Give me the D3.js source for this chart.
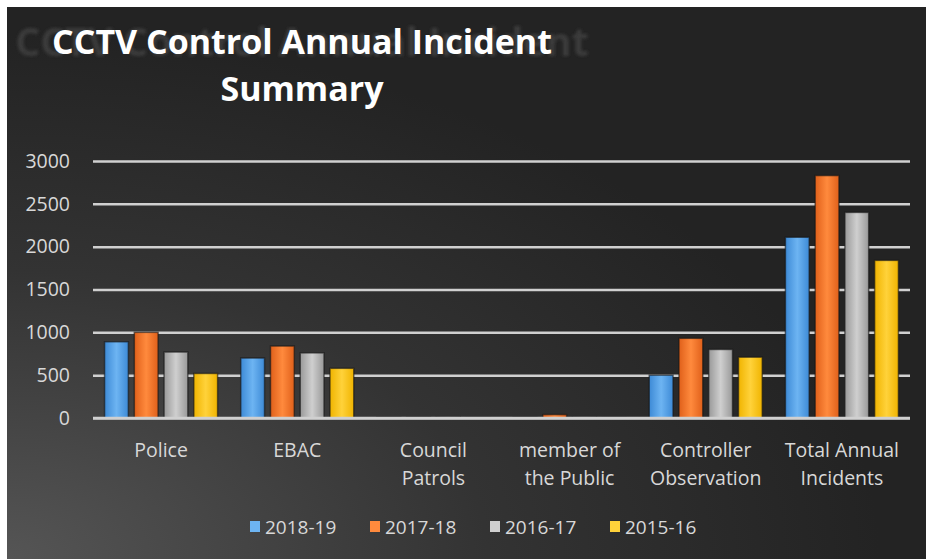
<!DOCTYPE html>
<html>
<head>
<meta charset="utf-8">
<title>CCTV Control Annual Incident Summary</title>
<script src="https://d3js.org/d3.v7.min.js"></script>
<style>
  body { margin: 0; background: #fff; }
  svg { display: block; }
  text { font-family: "Open Sans", "DejaVu Sans", sans-serif; }
</style>
</head>
<body>
<svg id="chart" width="926" height="559"></svg>
<script>
// data
var categories = [["Police"], ["EBAC"], ["Council", "Patrols"], ["member of", "the Public"], ["Controller", "Observation"], ["Total Annual", "Incidents"]];
var seriesNames = ["2018-19", "2017-18", "2016-17", "2015-16"];
var s2018 = [890, 700, 10, 10, 500, 2110];
var s2017 = [1000, 840, 10, 40, 930, 2830];
var s2016 = [770, 760, 15, 15, 800, 2400];
var s2015 = [520, 580, 5, 5, 710, 1840];
var yTicks = [0, 500, 1000, 1500, 2000, 2500, 3000];

var series = [s2018, s2017, s2016, s2015];
var colors = [["#3d8ad6", "#6db4f2"], ["#e0601a", "#ff8a3d"], ["#999999", "#cfcfcf"], ["#f0b400", "#ffd23a"]];

var svg = d3.select("#chart");
var defs = svg.append("defs");

// background
var bg = defs.append("radialGradient").attr("id", "bg")
  .attr("cx", "0%").attr("cy", "100%").attr("r", "95%");
bg.append("stop").attr("offset", "0%").attr("stop-color", "#555555");
bg.append("stop").attr("offset", "55%").attr("stop-color", "#333333");
bg.append("stop").attr("offset", "100%").attr("stop-color", "#232323");
svg.append("rect").attr("x", 7).attr("y", 7).attr("width", 919).attr("height", 552)
  .attr("fill", "url(#bg)");

colors.forEach(function(c, i) {
  var g = defs.append("linearGradient").attr("id", "bar" + i)
    .attr("x1", "0%").attr("x2", "100%").attr("y1", "0%").attr("y2", "0%");
  g.append("stop").attr("offset", "0%").attr("stop-color", c[0]);
  g.append("stop").attr("offset", "50%").attr("stop-color", c[1]);
  g.append("stop").attr("offset", "100%").attr("stop-color", c[0]);
});

defs.append("filter").attr("id", "blur").append("feGaussianBlur").attr("stdDeviation", 1.5);

var plotL = 93, plotR = 910, plotT = 161, plotB = 418;

var x0 = d3.scaleBand().domain(d3.range(categories.length))
  .range([plotL, plotR]).paddingInner(0.17).paddingOuter(0.085);
var x1 = d3.scaleBand().domain(d3.range(seriesNames.length))
  .range([0, x0.bandwidth()]).paddingInner(0.2);
var y = d3.scaleLinear().domain([0, 3000]).range([plotB, plotT]);

// grid
var yAxis = svg.append("g")
  .attr("transform", "translate(" + plotL + ",0)")
  .call(d3.axisLeft(y).tickValues(yTicks).tickFormat(d3.format("d"))
    .tickSize(-(plotR - plotL)).tickPadding(23));
yAxis.select(".domain").remove();
yAxis.selectAll(".tick line").attr("stroke", "#d0d0d0").attr("stroke-width", 2.5);
yAxis.selectAll(".tick text").attr("fill", "#d8d8d8").attr("font-size", "19.5px");

// bars
var groups = svg.append("g").selectAll("g")
  .data(categories).enter().append("g")
  .attr("transform", function(d, i) { return "translate(" + x0(i) + ",0)"; });

groups.selectAll("rect")
  .data(function(d, i) { return series.map(function(s, k) { return { k: k, v: s[i] }; }); })
  .enter().append("rect")
  .attr("x", function(d) { return x1(d.k); })
  .attr("y", function(d) { return y(d.v); })
  .attr("width", x1.bandwidth())
  .attr("height", function(d) { return plotB - y(d.v); })
  .attr("fill", function(d) { return "url(#bar" + d.k + ")"; })
  .attr("stroke", "#151515").attr("stroke-width", 1.5).attr("stroke-opacity", 0.6);

// base line
svg.append("line").attr("x1", plotL).attr("x2", plotR).attr("y1", plotB).attr("y2", plotB)
  .attr("stroke", "#d0d0d0").attr("stroke-width", 2.5);

// category labels
groups.each(function(d, i) {
  var t = d3.select(this).append("text")
    .attr("text-anchor", "middle").attr("fill", "#d8d8d8").attr("font-size", "19.5px")
    .attr("x", x0.bandwidth() / 2).attr("y", 457);
  d.forEach(function(line, j) {
    t.append("tspan").attr("x", x0.bandwidth() / 2).attr("dy", j === 0 ? 0 : 28).text(line);
  });
});

// title (with faint ghost copy behind)
svg.append("text").attr("x", 302).attr("y", 56).attr("text-anchor", "middle")
  .attr("font-size", "39px").attr("font-weight", "bold").attr("fill", "#3a3a3a")
  .attr("filter", "url(#blur)")
  .text("CCTV Control Annual Incident");
var title = svg.append("text").attr("text-anchor", "middle")
  .attr("font-size", "34px").attr("font-weight", "bold").attr("fill", "#ffffff");
title.append("tspan").attr("x", 302).attr("y", 54).text("CCTV Control Annual Incident");
title.append("tspan").attr("x", 302).attr("y", 101).text("Summary");

// legend
var legend = svg.append("g").selectAll("g")
  .data(seriesNames).enter().append("g")
  .attr("transform", function(d, i) { return "translate(" + (250 + i * 120) + ",527)"; });
legend.append("rect").attr("x", 0).attr("y", -6).attr("width", 10).attr("height", 11)
  .attr("fill", function(d, i) { return colors[i][1]; });
legend.append("text").attr("x", 15).attr("y", 7).attr("fill", "#d8d8d8")
  .attr("font-size", "19px").text(function(d) { return d; });
</script>
</body>
</html>
